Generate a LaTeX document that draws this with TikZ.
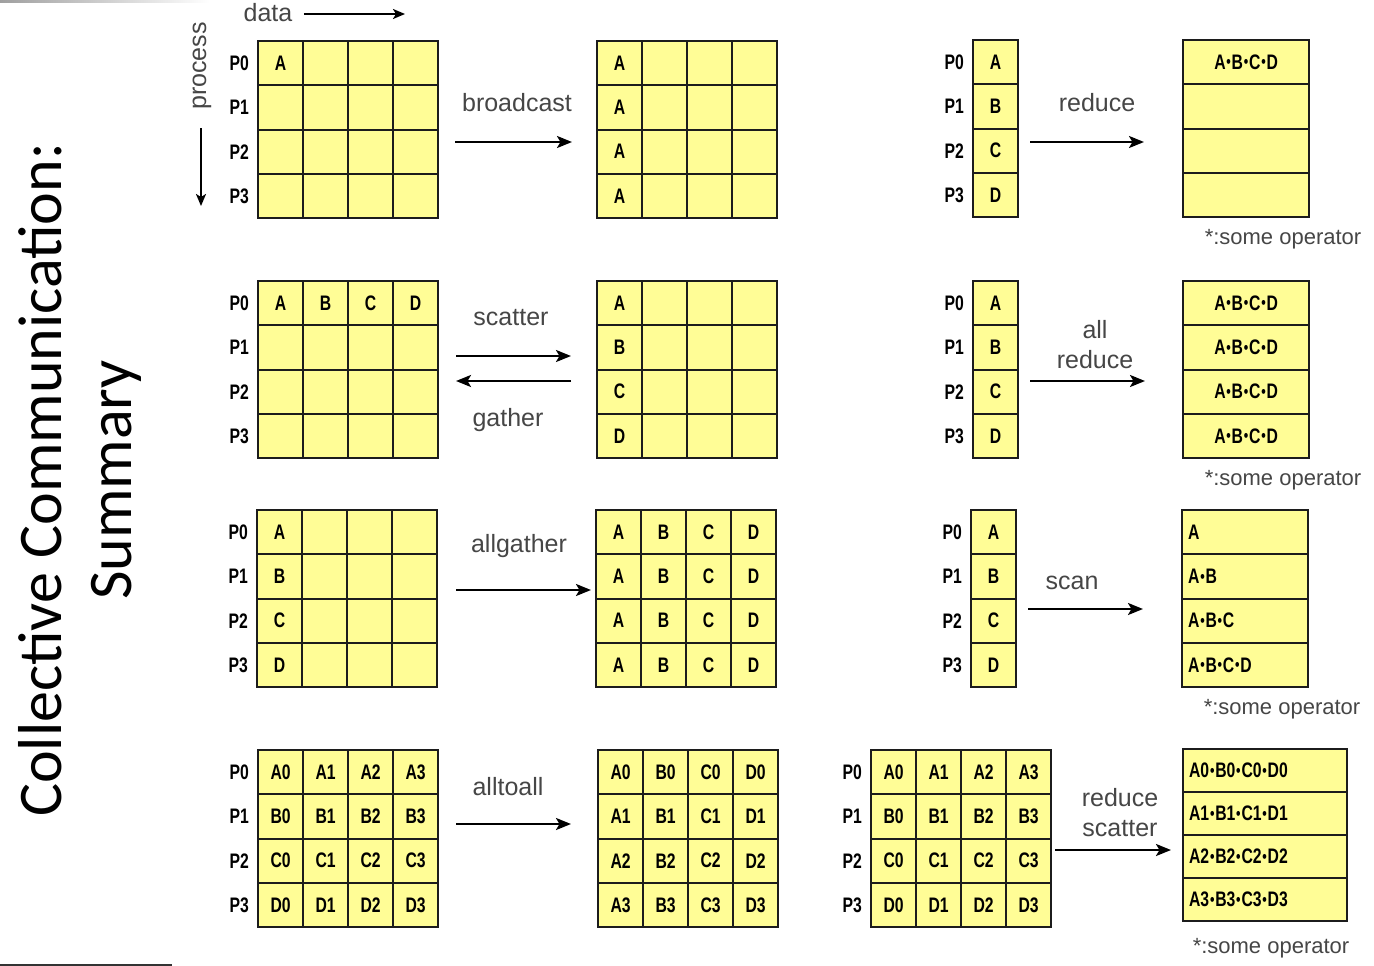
\documentclass[tikz,border=0pt]{standalone}
\usepackage{fontspec}
\usetikzlibrary{matrix,positioning,arrows.meta}
\newfontfamily\titlefont{Carlito}
\newfontfamily\cellfont{Liberation Sans}[FakeStretch=0.75]
\newfontfamily\labfont{Liberation Sans}
\definecolor{cellc}{RGB}{255,253,150}
\definecolor{linec}{RGB}{28,28,28}
\definecolor{labc}{RGB}{70,70,70}
% small operator dot used inside the cells
\newcommand\opd{\kern0.8pt\raisebox{1.5pt}{\fontsize{17}{17}\selectfont\textbullet}\kern0.8pt}
% P0..P3 in front of the rows of a table
\newcommand\procs[1]{\foreach \r [evaluate=\r as \p using int(\r-1)] in {1,...,4}
  \node[plab, left=9pt of #1-\r-1] {P\p};}
\tikzset{
  cell/.style={draw=linec, fill=cellc, line width=1.8pt, inner sep=0pt, outer sep=0pt,
    minimum width=45pt, minimum height=44.25pt, text=black, anchor=center,
    font=\cellfont\bfseries\fontsize{21}{21}\selectfont},
  grid/.style={matrix of nodes, nodes in empty cells, anchor=north west, inner sep=0pt,
    column sep=-1.8pt, row sep=-1.8pt, nodes={cell}},
  plab/.style={inner sep=0pt, font=\cellfont\bfseries\fontsize{21}{21}\selectfont},
  oplab/.style={font=\labfont\fontsize{25}{30}\selectfont, text=labc, align=center},
  note/.style={font=\labfont\fontsize{22}{22}\selectfont, text=labc},
  flow/.style={line width=2.4pt, -{Stealth[length=15pt,width=12pt,inset=3.5pt]}},
  thin flow/.style={line width=2pt, -{Stealth[length=12pt,width=10pt,inset=3pt]}},
}
\begin{document}
\begin{tikzpicture}[x=1pt,y=-1pt]
  \useasboundingbox (0,0) rectangle (1374,966);
  \fill[white] (0,0) rectangle (1374,966);
  \shade[left color=gray!75, right color=white] (0,0) rectangle (210,3);
  \draw[line width=1.5pt, black!80] (0,965) -- (172,965);

  % title
  \node[rotate=90, align=center, font=\titlefont\fontsize{62}{70}\selectfont]
    (ttl) at (80,480) {Collective Communication:\\Summary};

  % axes
  \node[note, font=\labfont\fontsize{25}{25}\selectfont] (data) at (268,13) {data};
  \coordinate (dataE) at (405,14);
  \draw[thin flow] (data.east) ++(8,1) coordinate (dataS) -- (dataE);
  \node[note, rotate=90, font=\labfont\fontsize{25}{25}\selectfont] (proc) at (202,66) {process};
  \coordinate (procS) at (201,128);
  \coordinate (procE) at (201,206);
  \draw[thin flow] (procS) -- (procE);

  % broadcast
  \matrix[grid] (bcL) at (257,40) {A & & & \\ & & & \\ & & & \\ & & & \\};
  \matrix[grid] (bcR) at (596,40) {A & & & \\ A & & & \\ A & & & \\ A & & & \\};
  \procs{bcL}
  \coordinate (bcA) at (455,142);
  \coordinate (bcB) at (572,142);
  \draw[flow] (bcA) -- (bcB);
  \node[oplab] (bcT) at (517,103) {broadcast};

  % reduce
  \matrix[grid, nodes={minimum width=45pt}] (rdL) at (972,39) {A \\ B \\ C \\ D \\};
  \matrix[grid, nodes={minimum width=126pt}] (rdR) at (1182,39)
    {A\opd B\opd C\opd D \\ \\ \\ \\};
  \procs{rdL}
  \coordinate (rdA) at (1030,142);
  \coordinate (rdB) at (1144,142);
  \draw[flow] (rdA) -- (rdB);
  \node[oplab] (rdT) at (1097,103) {reduce};
  \node[note] (rdN) at (1283,239) {*:some operator};

  % scatter / gather
  \matrix[grid] (scL) at (257,280) {A & B & C & D \\ & & & \\ & & & \\ & & & \\};
  \matrix[grid] (scR) at (596,280) {A & & & \\ B & & & \\ C & & & \\ D & & & \\};
  \procs{scL}
  \coordinate (scA) at (456,356);
  \coordinate (scB) at (571,356);
  \coordinate (gaA) at (571,381);
  \coordinate (gaB) at (456,381);
  \draw[flow] (scA) -- (scB);
  \draw[flow] (gaA) -- (gaB);
  \node[oplab] (scT) at (511,318) {scatter};
  \node[oplab] (gaT) at (508,420) {gather};

  % all reduce
  \matrix[grid, nodes={minimum width=45pt}] (arL) at (972,280) {A \\ B \\ C \\ D \\};
  \matrix[grid, nodes={minimum width=126pt}] (arR) at (1182,280)
    {A\opd B\opd C\opd D \\ A\opd B\opd C\opd D \\ A\opd B\opd C\opd D \\ A\opd B\opd C\opd D \\};
  \procs{arL}
  \coordinate (arA) at (1030,381);
  \coordinate (arB) at (1145,381);
  \draw[flow] (arA) -- (arB);
  \node[oplab] (arT) at (1095,345) {all\\reduce};
  \node[note] (arN) at (1283,480) {*:some operator};

  % allgather
  \matrix[grid] (agL) at (256,509) {A & & & \\ B & & & \\ C & & & \\ D & & & \\};
  \matrix[grid] (agR) at (595,509) {A & B & C & D \\ A & B & C & D \\ A & B & C & D \\ A & B & C & D \\};
  \procs{agL}
  \coordinate (agA) at (456,590);
  \coordinate (agB) at (591,590);
  \draw[flow] (agA) -- (agB);
  \node[oplab] (agT) at (519,546) {allgather};

  % scan
  \matrix[grid, nodes={minimum width=45pt}] (snL) at (970,509) {A \\ B \\ C \\ D \\};
  \matrix[grid, nodes={minimum width=126pt, text width=114pt, align=left}] (snR) at (1181,509)
    {A \\ A\opd B \\ A\opd B\opd C \\ A\opd B\opd C\opd D \\};
  \procs{snL}
  \coordinate (snA) at (1028,609);
  \coordinate (snB) at (1143,609);
  \draw[flow] (snA) -- (snB);
  \node[oplab] (snT) at (1072,583) {scan};
  \node[note] (snN) at (1282,709) {*:some operator};

  % alltoall
  \matrix[grid] (aaL) at (257,749)
    {A0 & A1 & A2 & A3 \\ B0 & B1 & B2 & B3 \\ C0 & C1 & C2 & C3 \\ D0 & D1 & D2 & D3 \\};
  \matrix[grid] (aaR) at (597,749)
    {A0 & B0 & C0 & D0 \\ A1 & B1 & C1 & D1 \\ A2 & B2 & C2 & D2 \\ A3 & B3 & C3 & D3 \\};
  \procs{aaL}
  \coordinate (aaA) at (456,824);
  \coordinate (aaB) at (571,824);
  \draw[flow] (aaA) -- (aaB);
  \node[oplab] (aaT) at (508,787) {alltoall};

  % reduce scatter
  \matrix[grid] (rsL) at (870,749)
    {A0 & A1 & A2 & A3 \\ B0 & B1 & B2 & B3 \\ C0 & C1 & C2 & C3 \\ D0 & D1 & D2 & D3 \\};
  \matrix[grid, nodes={minimum width=164pt, minimum height=43pt, text width=152pt, align=left}]
    (rsR) at (1182,748)
    {A0\opd B0\opd C0\opd D0 \\ A1\opd B1\opd C1\opd D1 \\ A2\opd B2\opd C2\opd D2 \\ A3\opd B3\opd C3\opd D3 \\};
  \procs{rsL}
  \coordinate (rsA) at (1055,850);
  \coordinate (rsB) at (1171,850);
  \draw[flow] (rsA) -- (rsB);
  \node[oplab] (rsT) at (1120,813) {reduce\\scatter};
  \node[note] (rsN) at (1271,948) {*:some operator};
\end{tikzpicture}
\end{document}
